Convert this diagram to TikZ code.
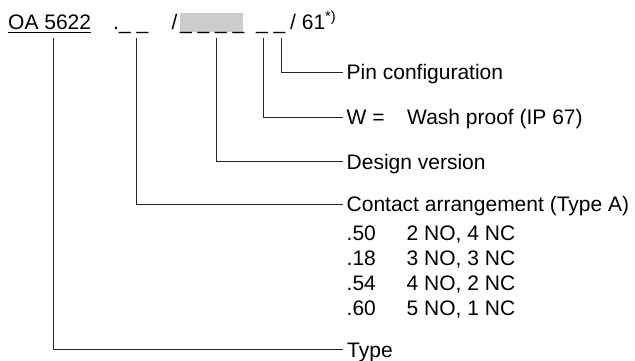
\documentclass[tikz,border=0pt]{standalone}
\usepackage{fontspec}
\setmainfont{Liberation Sans}
\begin{document}
\begin{tikzpicture}[x=1pt,y=-1pt,
  lbl/.style={inner sep=0pt, anchor=west, text height=15pt, text depth=0pt, font=\fontsize{21}{25}\selectfont},
  code/.style={inner sep=0pt, anchor=base west, font=\fontsize{21}{25}\selectfont},
  conn/.style={line width=1pt, draw=black!85},
  shade/.style={fill=black!20, draw=none}]
\useasboundingbox (0,0) rectangle (635,361);
% code line
\fill[shade] (180,13.3) rectangle (243,31.7);
\node[code] (oa) at (8,29.3) {OA 5622};
\draw[line width=0.9pt] ([yshift=-2.7pt]oa.base west) -- ([yshift=-2.7pt]oa.base east);
\node[code] (ca) at (113,29.3) {.\_ \_};
\node[code] (sl) at (171.5,29.3) {/};
\node[code] (dv) at (180,29.3) {\_ \_ \_ \_};
\node[code] (wp) at (256,29.3) {\_ \_};
\node[code] (pc) at (290,29.3) {/ 61\textsuperscript{*)}};
% labels
\node[lbl] (pin) at (346.5,72.3) {Pin configuration};
\node[lbl] (wash) at (346.5,117.3) {W =};
\node[lbl] (washtxt) at (407,117.3) {Wash proof (IP 67)};
\node[lbl] (design) at (346.5,161.7) {Design version};
\node[lbl] (contact) at (346.5,204) {Contact arrangement (Type A)};
\node[code] (c1) at (346.5,240) {.50};
\node[code] (d1) at (406.5,240) {2 NO, 4 NC};
\node[code] (c2) at (346.5,265) {.18};
\node[code] (d2) at (406.5,265) {3 NO, 3 NC};
\node[code] (c3) at (346.5,290) {.54};
\node[code] (d3) at (406.5,290) {4 NO, 2 NC};
\node[code] (c4) at (346.5,315) {.60};
\node[code] (d4) at (406.5,315) {5 NO, 1 NC};
\node[lbl] (type) at (347,349.5) {Type};
% connectors
\coordinate (vt) at (53.3,37.7);
\coordinate (vc) at (136,37.7);
\coordinate (vd) at (216.7,37.7);
\coordinate (vw) at (263.3,37.7);
\coordinate (vp) at (281.7,37.7);
\draw[conn] (vt) |- ([xshift=-4pt]type.west);
\draw[conn] (vc) |- ([xshift=-4pt]contact.west);
\draw[conn] (vd) |- ([xshift=-4pt]design.west);
\draw[conn] (vw) |- ([xshift=-4pt]wash.west);
\draw[conn] (vp) |- ([xshift=-4pt]pin.west);
\end{tikzpicture}
\end{document}
